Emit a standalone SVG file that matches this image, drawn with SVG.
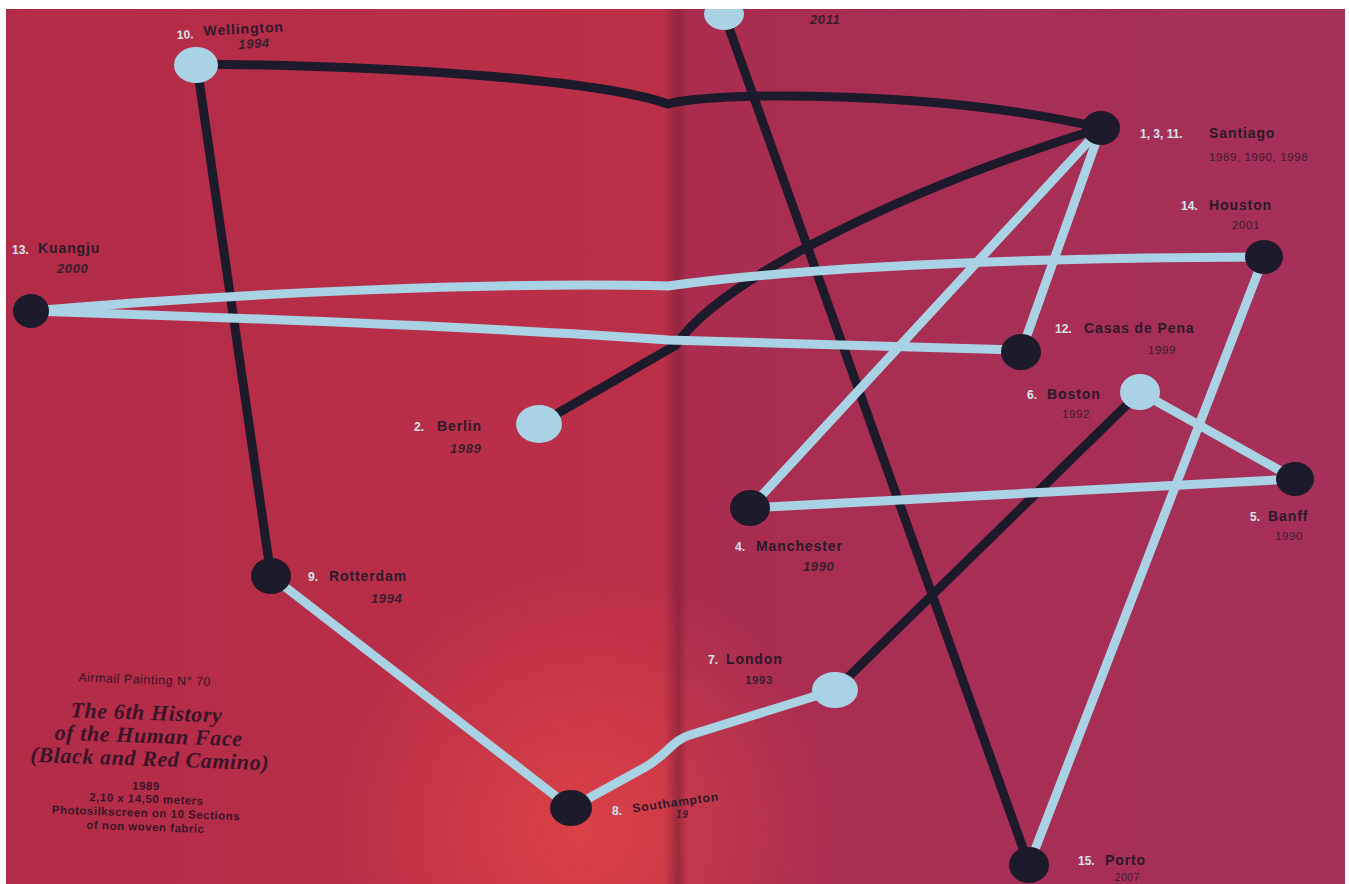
<svg xmlns="http://www.w3.org/2000/svg" width="1349" height="884" viewBox="0 0 1349 884">
<defs>
<linearGradient id="bg" x1="0" y1="0" x2="1" y2="0">
<stop offset="0" stop-color="#b22c48"/>
<stop offset="0.49" stop-color="#bc2f48"/>
<stop offset="0.51" stop-color="#aa2d50"/>
<stop offset="1" stop-color="#a5305a"/>
</linearGradient>
<radialGradient id="glow" cx="580" cy="830" r="260" gradientUnits="userSpaceOnUse">
<stop offset="0" stop-color="#e04446" stop-opacity="0.85"/>
<stop offset="1" stop-color="#e04446" stop-opacity="0"/>
</radialGradient>
<linearGradient id="gutter" x1="0" y1="0" x2="1" y2="0">
<stop offset="0" stop-color="#7a1e35" stop-opacity="0"/>
<stop offset="0.6" stop-color="#7a1e35" stop-opacity="0.55"/>
<stop offset="1" stop-color="#7a1e35" stop-opacity="0"/>
</linearGradient>
</defs>
<style>
.dk{fill:none;stroke:#1c1a2b;stroke-width:9;stroke-linecap:round}
.lt{fill:none;stroke:#a9d2e4;stroke-width:9;stroke-linecap:round}
.nd{fill:#1c1a2b}
.nl{fill:#a9d2e4}
.num{font-family:"Liberation Sans",Arial,sans-serif;font-weight:bold;font-size:12px;fill:#d2e6f0}
.nm{font-family:"Liberation Sans",Arial,sans-serif;font-weight:bold;font-size:14px;fill:#2a1a2a;letter-spacing:0.9px}
.yr{font-family:"Liberation Sans",Arial,sans-serif;font-weight:bold;font-style:italic;font-size:13px;fill:#3a1e30;letter-spacing:0.6px}
.yn{font-family:"Liberation Sans",Arial,sans-serif;font-size:11.5px;fill:#3a1e30;letter-spacing:0.6px}
.cap{font-family:"Liberation Sans",Arial,sans-serif;font-weight:bold;font-size:11.5px;fill:#3a1428;text-anchor:middle;letter-spacing:0.5px}
.ttl{font-family:"Liberation Serif","Times New Roman",serif;font-style:italic;font-weight:bold;font-size:22px;fill:#3a1428;text-anchor:middle;letter-spacing:0.6px}
</style>
<rect width="1349" height="884" fill="#ffffff"/>
<rect x="6" y="9" width="1339" height="875" fill="url(#bg)"/>
<rect x="6" y="9" width="1339" height="875" fill="url(#glow)"/>
<rect x="664" y="9" width="24" height="875" fill="url(#gutter)"/>

<g id="connectors">
<path class="dk" d="M196 64 C400 66 600 80 668 104 C720 90 950 92 1101 128"/>
<path class="dk" d="M197 66 L271 576"/>
<path class="dk" d="M724 14 L1029 865"/>
<path class="dk" d="M1101 128 C900 190 720 280 676 345 L539 424"/>
<path class="dk" d="M1140 392 L835 690"/>
<path class="lt" d="M31 311 C250 292 500 282 668 286 C800 268 1000 258 1264 257"/>
<path class="lt" d="M31 311 C250 318 500 328 668 340 L1021 350"/>
<path class="lt" d="M1101 128 L1021 352"/>
<path class="lt" d="M1101 128 L750 508"/>
<path class="lt" d="M1264 257 L1029 865"/>
<path class="lt" d="M1140 392 L1295 479"/>
<path class="lt" d="M750 508 L1295 479"/>
<path class="lt" d="M271 576 L571 808"/>
<path class="lt" d="M571 808 L640 770 C665 758 672 740 690 735 L835 690"/>
</g>

<g id="n-wellington">
<ellipse class="nl" cx="196" cy="65" rx="22" ry="18"/>
<g transform="rotate(-3 236 38)">
<text class="num" x="177" y="36">10.</text>
<text class="nm" x="204" y="34">Wellington</text>
<text class="yr" x="238" y="49">1994</text>
</g>
</g>
<g id="n-top">
<ellipse class="nl" cx="724" cy="14" rx="20" ry="16"/>
<text class="yr" x="810" y="24">2011</text>
</g>
<rect x="700" y="0" width="160" height="9" fill="#ffffff"/>
<g id="n-santiago">
<ellipse class="nd" cx="1101" cy="128" rx="19" ry="17"/>
<text class="num" x="1140" y="138">1, 3, 11.</text>
<text class="nm" x="1209" y="138">Santiago</text>
<text class="yn" x="1209" y="161">1989, 1990, 1998</text>
</g>
<g id="n-kuangju">
<ellipse class="nd" cx="31" cy="311" rx="18" ry="17"/>
<text class="num" x="12" y="254">13.</text>
<text class="nm" x="38" y="253">Kuangju</text>
<text class="yr" x="57" y="273">2000</text>
</g>
<g id="n-houston">
<ellipse class="nd" cx="1264" cy="257" rx="19" ry="17"/>
<text class="num" x="1181" y="210">14.</text>
<text class="nm" x="1209" y="210">Houston</text>
<text class="yn" x="1232" y="229">2001</text>
</g>
<g id="n-casas">
<ellipse class="nd" cx="1021" cy="352" rx="20" ry="18"/>
<text class="num" x="1055" y="333">12.</text>
<text class="nm" x="1084" y="333">Casas de Pena</text>
<text class="yn" x="1148" y="354">1999</text>
</g>
<g id="n-boston">
<ellipse class="nl" cx="1140" cy="392" rx="20" ry="18"/>
<text class="num" x="1027" y="399">6.</text>
<text class="nm" x="1047" y="399">Boston</text>
<text class="yn" x="1062" y="418">1992</text>
</g>
<g id="n-banff">
<ellipse class="nd" cx="1295" cy="479" rx="19" ry="17"/>
<text class="num" x="1250" y="521">5.</text>
<text class="nm" x="1268" y="521">Banff</text>
<text class="yn" x="1275" y="540">1990</text>
</g>
<g id="n-berlin">
<ellipse class="nl" cx="539" cy="424" rx="23" ry="19"/>
<text class="num" x="414" y="431">2.</text>
<text class="nm" x="437" y="431">Berlin</text>
<text class="yr" x="450" y="453">1989</text>
</g>
<g id="n-manchester">
<ellipse class="nd" cx="750" cy="508" rx="20" ry="18"/>
<text class="num" x="735" y="551">4.</text>
<text class="nm" x="756" y="551">Manchester</text>
<text class="yr" x="803" y="571">1990</text>
</g>
<g id="n-rotterdam">
<ellipse class="nd" cx="271" cy="576" rx="20" ry="18"/>
<text class="num" x="308" y="581">9.</text>
<text class="nm" x="329" y="581">Rotterdam</text>
<text class="yr" x="371" y="603">1994</text>
</g>
<g id="n-london">
<ellipse class="nl" cx="835" cy="690" rx="23" ry="18"/>
<text class="num" x="708" y="664">7.</text>
<text class="nm" x="726" y="664">London</text>
<text class="yn" x="745" y="684" style="font-weight:bold">1993</text>
</g>
<g id="n-southampton">
<ellipse class="nd" cx="571" cy="808" rx="21" ry="18"/>
<text class="num" x="612" y="815">8.</text>
<g transform="rotate(-8 636 812)">
<text class="nm" x="633" y="812" style="font-size:12px">Southampton</text>
</g>
<text class="yr" x="676" y="818" style="font-size:10px">19</text>
</g>
<g id="n-porto">
<ellipse class="nd" cx="1029" cy="865" rx="20" ry="18"/>
<text class="num" x="1078" y="865">15.</text>
<text class="nm" x="1105" y="865">Porto</text>
<text class="yn" x="1115" y="881" style="font-size:10px">2007</text>
</g>

<g id="caption" transform="rotate(2 150 755)">
<text class="cap" x="142" y="684" style="font-weight:normal;font-size:12.5px">Airmail Painting N° 70</text>
<text class="ttl" x="145" y="720">The 6th History</text>
<text class="ttl" x="148" y="743">of the Human Face</text>
<text class="ttl" x="150" y="766">(Black and Red Camino)</text>
<text class="cap" x="147" y="790">1989</text>
<text class="cap" x="148" y="803">2,10 x 14,50 meters</text>
<text class="cap" x="148" y="817">Photosilkscreen on 10 Sections</text>
<text class="cap" x="148" y="831">of non woven fabric</text>
</g>
</svg>
